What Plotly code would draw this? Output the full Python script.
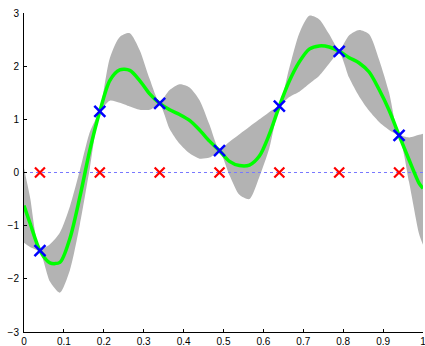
import plotly.graph_objects as go

# observation locations and values
obs_x = [0.04, 0.19, 0.34, 0.49, 0.64, 0.79, 0.94]
obs_y = [-1.47, 1.15, 1.30, 0.41, 1.25, 2.28, 0.70]

grid_x = [0, 0.015, 0.04, 0.065, 0.09, 0.115, 0.14, 0.165, 0.19, 0.215, 0.24, 0.265,
          0.29, 0.315, 0.34, 0.365, 0.39, 0.415, 0.44, 0.465, 0.49, 0.515, 0.54, 0.565,
          0.59, 0.615, 0.64, 0.665, 0.69, 0.715, 0.74, 0.765, 0.79, 0.815, 0.84, 0.865,
          0.89, 0.915, 0.94, 0.965, 0.99, 1.0]
mean_y = [-0.62, -0.95, -1.47, -1.70, -1.69, -1.24, -0.46, 0.42, 1.15, 1.73, 1.93, 1.92,
          1.73, 1.48, 1.30, 1.18, 1.09, 0.98, 0.80, 0.59, 0.41, 0.21, 0.13, 0.14,
          0.31, 0.72, 1.25, 1.72, 2.08, 2.32, 2.38, 2.36, 2.28, 2.16, 2.06, 1.89,
          1.56, 1.17, 0.70, 0.24, -0.20, -0.30]
upper_y = [0.08, -0.46, -1.44, -1.35, -1.13, -0.64, 0.04, 0.76, 1.18, 2.15, 2.55, 2.62,
           2.30, 1.76, 1.33, 1.55, 1.66, 1.60, 1.36, 0.90, 0.44, 0.58, 0.72, 0.86,
           1.00, 1.14, 1.28, 1.97, 2.62, 2.95, 2.88, 2.60, 2.31, 2.58, 2.68, 2.60,
           2.12, 1.50, 0.73, 0.66, 0.71, 0.73]
lower_y = [-1.32, -1.40, -1.50, -2.05, -2.26, -1.84, -0.98, 0.08, 1.12, 1.35, 1.31, 1.24,
           1.18, 1.18, 1.27, 0.82, 0.54, 0.36, 0.26, 0.28, 0.38, -0.05, -0.42, -0.50,
           -0.08, 0.46, 1.22, 1.42, 1.52, 1.67, 1.82, 2.05, 2.25, 1.78, 1.43, 1.16,
           0.95, 0.80, 0.67, -0.18, -1.15, -1.36]

x_ticks = [0, 0.1, 0.2, 0.3, 0.4, 0.5, 0.6, 0.7, 0.8, 0.9, 1]
x_labels = ["0", "0.1", "0.2", "0.3", "0.4", "0.5", "0.6", "0.7", "0.8", "0.9", "1"]
y_ticks = [-3, -2, -1, 0, 1, 2, 3]
y_labels = ["\u22123", "\u22122", "\u22121", "0", "1", "2", "3"]

fig = go.Figure()
fig.add_trace(go.Scatter(x=grid_x, y=upper_y, mode="lines",
                         line=dict(width=0, shape="spline", smoothing=0.7, color="rgba(0,0,0,0)"),
                         hoverinfo="skip", showlegend=False))
fig.add_trace(go.Scatter(x=grid_x, y=lower_y, mode="lines", fill="tonexty",
                         fillcolor="rgb(179,179,179)",
                         line=dict(width=0, shape="spline", smoothing=0.7, color="rgba(0,0,0,0)"),
                         hoverinfo="skip", showlegend=False))
fig.add_trace(go.Scatter(x=[0, 1], y=[0, 0], mode="lines",
                         line=dict(color="rgb(120,120,255)", width=1, dash="dot"),
                         showlegend=False))
fig.add_trace(go.Scatter(x=grid_x, y=mean_y, mode="lines",
                         line=dict(color="rgb(0,255,0)", width=3.5, shape="spline", smoothing=0.8),
                         showlegend=False))
fig.add_trace(go.Scatter(x=obs_x, y=[0] * len(obs_x), mode="markers",
                         marker=dict(symbol="x-thin", size=10,
                                     line=dict(color="rgb(255,0,0)", width=2.2)),
                         showlegend=False))
fig.add_trace(go.Scatter(x=obs_x, y=obs_y, mode="markers",
                         marker=dict(symbol="x-thin", size=11,
                                     line=dict(color="rgb(0,0,255)", width=2.5)),
                         showlegend=False))

axis_common = dict(showline=True, linecolor="black", linewidth=1, mirror=False,
                   ticks="inside", ticklen=3, tickcolor="black", tickwidth=1,
                   showgrid=False, zeroline=False, automargin=False,
                   ticklabeloverflow="allow",
                   tickfont=dict(family="Liberation Sans, Arial, sans-serif", size=10, color="black"))
fig.update_xaxes(range=[0, 1], tickvals=x_ticks, ticktext=x_labels, ticklabelstandoff=0, **axis_common)
fig.update_yaxes(range=[-3, 3], tickvals=y_ticks, ticktext=y_labels, ticklabelstandoff=2, **axis_common)
fig.update_layout(width=425, height=346, margin=dict(l=24, r=2, t=13, b=14, autoexpand=False),
                  plot_bgcolor="white", paper_bgcolor="white")
fig.write_html("out.html", config={"displayModeBar": False},
               post_script="document.body.style.margin='0';document.body.style.padding='0';")
